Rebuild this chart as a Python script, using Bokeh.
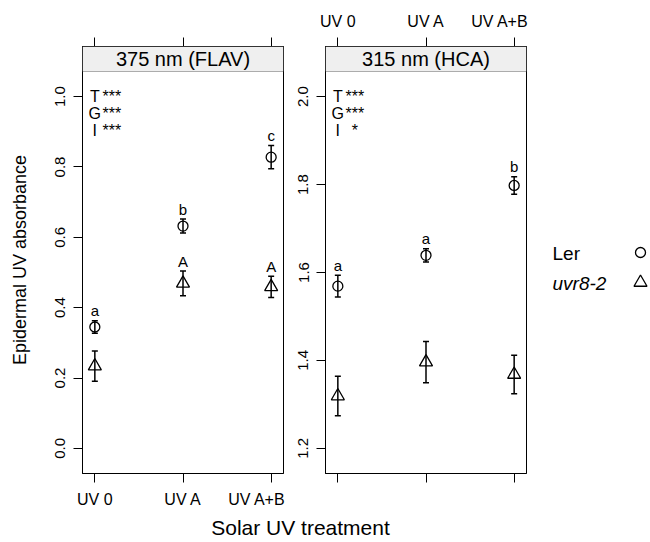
from bokeh.plotting import figure
from bokeh.layouts import row, column
from bokeh.models import (Range1d, FixedTicker, LinearAxis, ColumnDataSource, Whisker,
                          TeeHead, BoxAnnotation, Label, PrintfTickFormatter)
from bokeh.core.properties import value
from bokeh.embed import file_html
from bokeh.resources import INLINE

FONT = "Liberation Sans"

# ---------------- data ----------------
treatments = ["UV 0", "UV A", "UV A+B"]
treat_pos = [1, 2, 3]
panel_titles = ["375 nm (FLAV)", "315 nm (HCA)"]
series_names = ["Ler", "uvr8-2"]

flav_ler = [0.345, 0.632, 0.828]
flav_ler_se = [0.018, 0.020, 0.033]
flav_uvr = [0.234, 0.469, 0.459]
flav_uvr_se = [0.043, 0.035, 0.030]

hca_ler = [1.569, 1.639, 1.798]
hca_ler_se = [0.025, 0.015, 0.020]
hca_uvr = [1.319, 1.396, 1.368]
hca_uvr_se = [0.045, 0.047, 0.044]

flav_ler_letters = ["a", "b", "c"]
flav_uvr_letters = ["", "A", "A"]
hca_ler_letters = ["a", "a", "b"]
hca_uvr_letters = ["", "", ""]

stat_terms = ["T", "G", "I"]
flav_stat_stars = ["***", "***", "***"]
hca_stat_stars = ["***", "***", "*"]

flav_yticks = [0.0, 0.2, 0.4, 0.6, 0.8, 1.0]
hca_yticks = [1.2, 1.4, 1.6, 1.8, 2.0]

# ---------------- layout constants ----------------
FRAME_W, BODY_H, STRIP_H = 201, 402, 25
TOP_B, BOT_B = 46, 38
X_EXT = 0.14
Y_EXT = 0.0715


def style_axis(ax, size):
    ax.major_tick_out = 9
    ax.major_tick_in = 0
    ax.minor_tick_out = 0
    ax.minor_tick_in = 0
    ax.axis_line_color = "black"
    ax.major_tick_line_color = "black"
    ax.major_label_text_font = FONT
    ax.major_label_text_font_size = size
    ax.major_label_text_color = "black"
    ax.major_label_standoff = 8


def make_panel(title, ticks, ler, ler_se, uvr, uvr_se, ler_let, uvr_let, stars,
               left_border, bottom_labels, top_labels, ylabel=None):
    lo, hi = ticks[0], ticks[-1]
    span = hi - lo
    y0, y1 = lo - Y_EXT * span, hi + Y_EXT * span
    ytop = y1 + (y1 - y0) * STRIP_H / BODY_H
    p = figure(frame_width=FRAME_W, frame_height=BODY_H + STRIP_H,
               x_range=Range1d(treat_pos[0] - X_EXT, treat_pos[-1] + X_EXT),
               y_range=Range1d(y0, ytop),
               output_backend="svg", toolbar_location=None,
               x_axis_location=None, y_axis_location=None,
               min_border_left=left_border, min_border_right=2,
               min_border_top=TOP_B, min_border_bottom=BOT_B,
               outline_line_color="black", outline_line_width=1)
    p.xgrid.visible = False
    p.ygrid.visible = False

    lab_map = {pos: t for pos, t in zip(treat_pos, treatments)}
    empty_map = {pos: "" for pos in treat_pos}

    xb = LinearAxis(ticker=FixedTicker(ticks=treat_pos),
                    major_label_overrides=lab_map if bottom_labels else empty_map)
    style_axis(xb, "16px")
    p.add_layout(xb, "below")

    xt = LinearAxis(ticker=FixedTicker(ticks=treat_pos),
                    major_label_overrides=lab_map if top_labels else empty_map)
    style_axis(xt, "16px")
    p.add_layout(xt, "above")

    yl = LinearAxis(ticker=FixedTicker(ticks=ticks),
                    formatter=PrintfTickFormatter(format="%.1f"),
                    major_label_orientation="vertical")
    style_axis(yl, "15px")
    if ylabel:
        yl.axis_label = ylabel
        yl.axis_label_text_font = FONT
        yl.axis_label_text_font_size = "18px"
        yl.axis_label_text_font_style = "normal"
        yl.axis_label_text_color = "black"
        yl.axis_label_standoff = 23
    p.add_layout(yl, "left")

    # strip
    p.add_layout(BoxAnnotation(bottom=y1, fill_color="#efefef", fill_alpha=1.0,
                               line_color="black", line_width=1))
    p.add_layout(Label(x=2, y=(y1 + ytop) / 2, text=title, text_align="center",
                       text_baseline="middle", text_font=FONT, text_font_size="20px",
                       text_color="black"))

    # stats text
    for i, (term, st) in enumerate(zip(stat_terms, stars)):
        off = -(25 + 17 * i)
        p.add_layout(Label(x=treat_pos[0], y=y1, y_offset=off, text=term,
                           text_align="center", text_baseline="middle",
                           text_font=FONT, text_font_size="16px", text_color="black"))
        p.add_layout(Label(x=treat_pos[0], y=y1, x_offset=17, y_offset=off, text=st,
                           text_align="center", text_baseline="middle",
                           text_font=FONT, text_font_size="16px", text_color="black"))

    for vals, se, lets, marker, size in [(ler, ler_se, ler_let, "circle", 10),
                                         (uvr, uvr_se, uvr_let, "triangle", 13)]:
        src = ColumnDataSource(dict(
            x=treat_pos, y=vals,
            upper=[v + e for v, e in zip(vals, se)],
            lower=[v - e for v, e in zip(vals, se)],
            letter=lets))
        p.add_layout(Whisker(base="x", upper="upper", lower="lower", source=src,
                             dimension="height", line_color="black", line_width=1.5,
                             upper_head=TeeHead(size=6, line_width=1.5, line_color="black"),
                             lower_head=TeeHead(size=6, line_width=1.5, line_color="black")))
        p.scatter("x", "y", source=src, marker=marker, size=size, fill_color=None,
                  line_color="black", line_width=1.3)
        p.text("x", "upper", text="letter", source=src, text_align="center",
               text_baseline="alphabetic", y_offset=-10, text_font=value(FONT),
               text_font_size="15px", text_color="black")
    return p


p1 = make_panel(panel_titles[0], flav_yticks, flav_ler, flav_ler_se, flav_uvr, flav_uvr_se,
                flav_ler_letters, flav_uvr_letters, flav_stat_stars,
                left_border=82, bottom_labels=True, top_labels=False,
                ylabel="Epidermal UV absorbance")
p2 = make_panel(panel_titles[1], hca_yticks, hca_ler, hca_ler_se, hca_uvr, hca_uvr_se,
                hca_ler_letters, hca_uvr_letters, hca_stat_stars,
                left_border=40, bottom_labels=False, top_labels=True)

# legend panel (pixel-like coordinates measured from frame top, y downwards)
LEG_W = 120
FRAME_H = BODY_H + STRIP_H
leg = figure(frame_width=LEG_W, frame_height=FRAME_H, x_range=Range1d(0, LEG_W),
             y_range=Range1d(FRAME_H, 0), min_border_left=0, min_border_right=0,
             min_border_top=TOP_B, min_border_bottom=BOT_B, output_backend="svg",
             toolbar_location=None, x_axis_location=None, y_axis_location=None,
             outline_line_color=None)
leg.xgrid.visible = False
leg.ygrid.visible = False
leg_src = ColumnDataSource(dict(mx=[112, 112], my=[206, 236],
                                marker=["circle", "triangle"], size=[10, 13]))
leg.text(x=24, y=207, text=[series_names[0]], text_baseline="middle",
         text_font=value(FONT), text_font_size="19px", text_color="black")
leg.text(x=24, y=237, text=[series_names[1]], text_baseline="middle",
         text_font=value(FONT), text_font_size="19px", text_font_style="italic",
         text_color="black")
leg.scatter("mx", "my", source=leg_src, marker="marker", size="size", fill_color=None,
            line_color="black", line_width=1.3)

# shared x-axis title
TOTAL_W = (82 + FRAME_W + 2) + (40 + FRAME_W + 2) + LEG_W
XT_H = 30
xt_fig = figure(frame_width=TOTAL_W, frame_height=XT_H, x_range=Range1d(0, TOTAL_W),
                y_range=Range1d(XT_H, 0), min_border=0, output_backend="svg",
                toolbar_location=None, x_axis_location=None, y_axis_location=None,
                outline_line_color=None)
xt_fig.xgrid.visible = False
xt_fig.ygrid.visible = False
xt_fig.add_layout(Label(x=300, y=16, text="Solar UV treatment", text_align="center",
                        text_baseline="middle", text_font=FONT,
                        text_font_size="21px", text_color="black"))

layout = column(row(p1, p2, leg), xt_fig)
open("out.html", "w").write(file_html(layout, INLINE))
